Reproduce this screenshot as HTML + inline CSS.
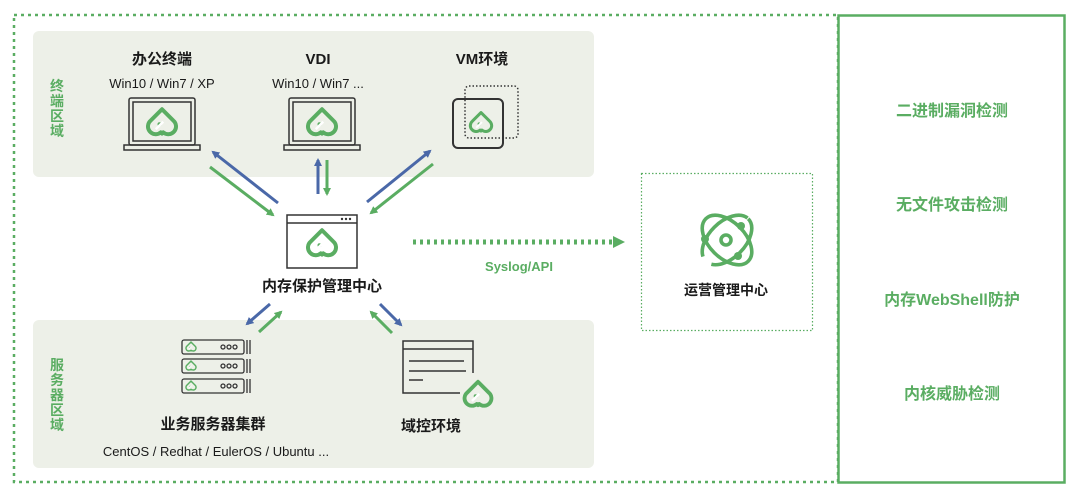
<!DOCTYPE html>
<html><head><meta charset="utf-8"><style>
html,body{margin:0;padding:0;background:#fff;}
svg{display:block;}
text{font-family:"Liberation Sans","Noto Sans CJK SC",sans-serif;}
</style></head><body>
<svg width="1080" height="499" viewBox="0 0 1080 499" xmlns="http://www.w3.org/2000/svg">
<defs>
<g id="heart">
<path d="M0,-11 L-9,-2 A5.5,5.5 0 0 0 -1,7.5 L0,8.5 L1,7.5 A5.5,5.5 0 0 0 9,-2 Z" fill="none" stroke="#5aad62" stroke-width="3.2" stroke-linejoin="round"/>
<circle cx="-2" cy="1" r="1.6" fill="#5aad62"/>
<line x1="-5" y1="5" x2="1" y2="-1" stroke="#fff" stroke-width="2"/>
</g>
<marker id="ab" markerWidth="8" markerHeight="8" refX="6" refY="4" orient="auto" markerUnits="userSpaceOnUse"><path d="M0,0 L8,4 L0,8 Z" fill="#4a68a8"/></marker>
<marker id="ag" markerWidth="8" markerHeight="8" refX="6" refY="4" orient="auto" markerUnits="userSpaceOnUse"><path d="M0,0 L8,4 L0,8 Z" fill="#5aad62"/></marker>
</defs>
<rect x="14" y="15" width="824" height="467" fill="none" stroke="#5aad62" stroke-width="2.5" stroke-dasharray="3,4"/>
<rect x="838.5" y="15.5" width="226" height="467" fill="none" stroke="#5aad62" stroke-width="2.5"/>
<rect x="33" y="31" width="561" height="146" rx="6" fill="#edf0e8"/>
<rect x="33" y="320" width="561" height="148" rx="6" fill="#edf0e8"/>

<g fill="#5aad62" font-weight="bold" font-size="14" text-anchor="middle">
<text x="57" y="91">终</text><text x="57" y="106">端</text><text x="57" y="121">区</text><text x="57" y="136">域</text>
<text x="57" y="370">服</text><text x="57" y="385">务</text><text x="57" y="400">器</text><text x="57" y="415">区</text><text x="57" y="430">域</text>
</g>

<g text-anchor="middle" fill="#1a1a1a">
<text x="162" y="64" font-size="15" font-weight="bold">办公终端</text>
<text x="162" y="88" font-size="13">Win10 / Win7 / XP</text>
<text x="318" y="64" font-size="15" font-weight="bold">VDI</text>
<text x="318" y="88" font-size="13">Win10 / Win7 ...</text>
<text x="482" y="64" font-size="15" font-weight="bold">VM环境</text>
<text x="322" y="291" font-size="15" font-weight="bold">内存保护管理中心</text>
<text x="213" y="429" font-size="15" font-weight="bold">业务服务器集群</text>
<text x="216" y="456" font-size="13">CentOS / Redhat / EulerOS / Ubuntu ...</text>
<text x="431" y="431" font-size="15" font-weight="bold">域控环境</text>
<text x="726" y="295" font-size="14" font-weight="bold">运营管理中心</text>
</g>

<g fill="none" stroke="#333" stroke-width="1.5">
<rect x="129" y="98" width="66" height="47" rx="2"/><rect x="133" y="102" width="58" height="39"/>
<path d="M124,145 H200 V150 H124 Z"/>
<rect x="289" y="98" width="66" height="47" rx="2"/><rect x="293" y="102" width="58" height="39"/>
<path d="M284,145 H360 V150 H284 Z"/>
<rect x="453" y="99" width="50" height="49" rx="5" stroke-width="2"/>
<rect x="465" y="86" width="53" height="52" rx="4" stroke-dasharray="1.5,2"/>
<rect x="287" y="215" width="70" height="53"/><line x1="287" y1="223" x2="357" y2="223"/>
</g>
<g fill="#333"><circle cx="342" cy="219" r="1.2"/><circle cx="346" cy="219" r="1.2"/><circle cx="350" cy="219" r="1.2"/></g>
<g transform="translate(162,123) scale(1.25)"><use href="#heart"/></g>
<g transform="translate(322,123) scale(1.25)"><use href="#heart"/></g>
<g transform="translate(481,123) scale(0.95)"><use href="#heart"/></g>
<g transform="translate(322,244) scale(1.25)"><use href="#heart"/></g>

<g stroke-width="3" fill="none">
<line x1="278" y1="203" x2="213" y2="152" stroke="#4a68a8" marker-end="url(#ab)"/>
<line x1="210" y1="167" x2="273" y2="215" stroke="#5aad62" marker-end="url(#ag)"/>
<line x1="318" y1="194" x2="318" y2="160" stroke="#4a68a8" marker-end="url(#ab)"/>
<line x1="327" y1="160" x2="327" y2="194" stroke="#5aad62" marker-end="url(#ag)"/>
<line x1="367" y1="202" x2="430" y2="151" stroke="#4a68a8" marker-end="url(#ab)"/>
<line x1="433" y1="164" x2="371" y2="213" stroke="#5aad62" marker-end="url(#ag)"/>
<line x1="270" y1="304" x2="247" y2="324" stroke="#4a68a8" marker-end="url(#ab)"/>
<line x1="259" y1="332" x2="281" y2="312" stroke="#5aad62" marker-end="url(#ag)"/>
<line x1="380" y1="304" x2="401" y2="325" stroke="#4a68a8" marker-end="url(#ab)"/>
<line x1="392" y1="333" x2="371" y2="312" stroke="#5aad62" marker-end="url(#ag)"/>
</g>

<line x1="413" y1="242" x2="612" y2="242" stroke="#5aad62" stroke-width="5" stroke-dasharray="3,4"/>
<path d="M613,236 L625,242 L613,248 Z" fill="#5aad62"/>
<text x="519" y="271" text-anchor="middle" font-size="13" font-weight="bold" fill="#5aad62">Syslog/API</text>

<rect x="641.5" y="173.5" width="171" height="157" fill="none" stroke="#5aad62" stroke-width="1.2" stroke-dasharray="1.5,2"/>
<g fill="none" stroke="#5aad62" stroke-width="3.6">
<ellipse cx="727" cy="240" rx="30" ry="18" transform="rotate(45 727 240)"/>
<ellipse cx="727" cy="240" rx="30" ry="18" transform="rotate(-45 727 240)" stroke-dasharray="70,12"/>
<circle cx="726" cy="240" r="5"/>
</g>
<g fill="#5aad62"><circle cx="741" cy="226" r="4"/><circle cx="738" cy="256" r="4"/><circle cx="705" cy="239" r="4"/></g>

<g fill="#5aad62" font-size="16" font-weight="bold" text-anchor="middle">
<text x="952" y="116">二进制漏洞检测</text>
<text x="952" y="210">无文件攻击检测</text>
<text x="952" y="305">内存WebShell防护</text>
<text x="952" y="399">内核威胁检测</text>
</g>

<g fill="none" stroke="#333" stroke-width="1.3">
<rect x="182" y="340" width="62" height="14" rx="2"/><rect x="182" y="359" width="62" height="14" rx="2"/><rect x="182" y="379" width="62" height="14" rx="2"/>
<path d="M247,340 v14 M250,340 v14 M247,359 v14 M250,359 v14 M247,379 v14 M250,379 v14"/>
<circle cx="223" cy="347" r="2"/><circle cx="229" cy="347" r="2"/><circle cx="235" cy="347" r="2"/>
<circle cx="223" cy="366" r="2"/><circle cx="229" cy="366" r="2"/><circle cx="235" cy="366" r="2"/>
<circle cx="223" cy="386" r="2"/><circle cx="229" cy="386" r="2"/><circle cx="235" cy="386" r="2"/>
</g>
<g transform="translate(191,347) scale(0.45)"><use href="#heart"/></g>
<g transform="translate(191,366) scale(0.45)"><use href="#heart"/></g>
<g transform="translate(191,386) scale(0.45)"><use href="#heart"/></g>

<g fill="none" stroke="#333" stroke-width="1.5">
<path d="M460,393 H403 V341 H473 V373"/>
<line x1="403" y1="349" x2="473" y2="349"/>
<line x1="409" y1="361" x2="464" y2="361"/>
<line x1="409" y1="371" x2="466" y2="371"/>
<line x1="409" y1="380" x2="423" y2="380"/>
</g>
<g transform="translate(478,395) scale(1.2)"><use href="#heart"/></g>
</svg>
</body></html>
